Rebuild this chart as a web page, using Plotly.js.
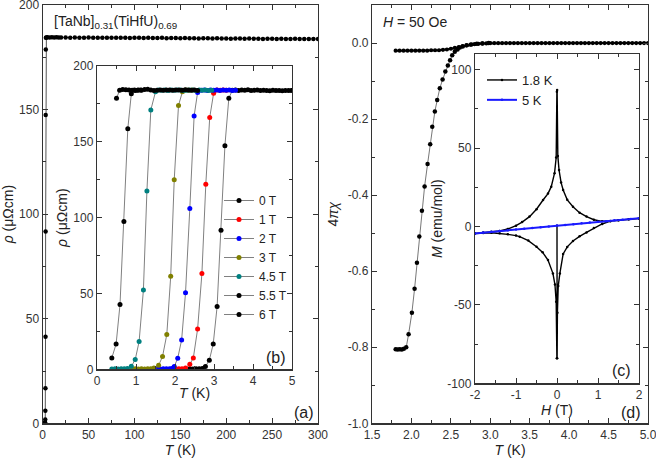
<!DOCTYPE html>
<html><head><meta charset="utf-8">
<script src="https://cdn.plot.ly/plotly-3.0.1.min.js"></script>
<style>html,body{margin:0;padding:0;background:#fff}#chart{width:656px;height:461px}</style>
</head><body><div id="chart"></div>
<script>
// ---------- Panel (a): rho vs T, 0 T, 0-300 K ----------
const T_main = [1.8, 2.0, 2.2, 2.38, 2.54, 2.70, 2.78, 2.88, 2.98, 3.08, 3.18, 3.28, 3.38, 3.47,
  4, 5, 7.5, 10, 12.5, 15, 17.5, 20,
  25, 30, 35, 40, 45, 50, 55, 60, 65, 70, 75, 80, 85, 90, 95, 100, 105, 110, 115, 120,
  125, 130, 135, 140, 145, 150, 155, 160, 165, 170, 175, 180, 185, 190, 195, 200,
  205, 210, 215, 220, 225, 230, 235, 240, 245, 250, 255, 260, 265, 270, 275, 280,
  285, 290, 295, 300];
const rho_main = [0.2, 0.3, 0.2, 0.3, 0.2, 0.3, 1.8, 6.0, 16.7, 41.4, 91.7, 147.4, 178.7, 184.3,
  184.5, 184.6, 184.5, 184.6, 184.5, 184.6, 184.5, 184.5,
  184.5, 184.4, 184.5, 184.4, 184.4, 184.5, 184.3, 184.4, 184.4, 184.3, 184.4, 184.3, 184.3, 184.4, 184.2, 184.3, 184.3, 184.2, 184.3, 184.2,
  184.2, 184.3, 184.1, 184.2, 184.2, 184.1, 184.2, 184.1, 184.1, 184.0, 184.1, 184.1, 184.0, 184.1, 184.0, 184.0,
  183.9, 184.0, 184.0, 183.9, 184.0, 183.9, 183.9, 183.8, 183.9, 183.9, 183.8, 183.9, 183.8, 183.8, 183.9, 183.8,
  183.8, 183.7, 183.8, 183.8];

// ---------- Panel (b): rho vs T in fields ----------
const fields_b = ['0 T', '1 T', '2 T', '3 T', '4.5 T', '5.5 T', '6 T'];
const colors_b = ['#000000', '#ff0000', '#0000ff', '#808000', '#008080', '#000000', '#000000'];
const T_0T = [2.38, 2.46, 2.54, 2.62, 2.70, 2.78, 2.88, 2.98, 3.08, 3.18, 3.28, 3.38,
  3.47, 3.55, 3.63, 3.71, 3.79, 3.87, 3.95, 4.03, 4.11, 4.19, 4.27, 4.35, 4.43, 4.51, 4.59, 4.67, 4.75, 4.83, 4.91, 4.98];
const rho_0T = [0.3, 0.2, 0.3, 0.4, 0.6, 1.8, 6.0, 16.7, 41.4, 91.7, 147.4, 178.7,
  184.0, 184.2, 183.9, 184.1, 184.0, 184.3, 183.9, 184.0, 184.1, 183.8, 184.0, 183.9, 183.7, 184.0, 183.8, 183.9, 183.7, 183.9, 183.8, 183.9];
const T_1T = [1.94, 2.02, 2.10, 2.18, 2.27, 2.38, 2.47, 2.58, 2.69, 2.79, 2.89, 2.99, 3.08, 3.16, 3.24, 3.32];
const rho_1T = [0.2, 0.3, 0.3, 0.4, 0.9, 3.3, 7.5, 26.6, 63.2, 122.0, 166.0, 182.0, 184.1, 184.0, 184.2, 184.0];
const T_2T = [1.46, 1.54, 1.62, 1.70, 1.78, 1.86, 1.92, 1.98, 2.07, 2.17, 2.27, 2.38, 2.49, 2.58,
  2.67, 2.75, 2.83, 2.91, 2.99, 3.07, 3.15, 3.23, 3.31, 3.39, 3.47, 3.55];
const rho_2T = [0.2, 0.3, 0.2, 0.3, 0.3, 0.4, 0.6, 1.8, 7.3, 19.4, 50.4, 106.0, 167.0, 182.6,
  184.0, 184.1, 183.9, 184.2, 184.0, 184.1, 183.9, 184.2, 184.0, 184.1, 183.9, 184.0];
const T_3T = [0.90, 0.98, 1.06, 1.14, 1.22, 1.30, 1.38, 1.46, 1.58, 1.68, 1.79, 1.89, 1.98, 2.09, 2.19, 2.28, 2.36, 2.44];
const rho_3T = [0.2, 0.3, 0.2, 0.3, 0.2, 0.3, 0.4, 0.8, 2.6, 8.4, 22.9, 61.4, 125.0, 174.0, 183.0, 184.1, 184.0, 184.2];
const T_45T = [0.38, 0.46, 0.54, 0.62, 0.70, 0.78, 0.88, 0.98, 1.08, 1.19, 1.28, 1.38, 1.50,
  1.58, 1.66, 1.74, 1.82, 1.90, 1.98, 2.06, 2.14, 2.22, 2.30, 2.38, 2.46, 2.54, 2.62, 2.70, 2.78, 2.86, 2.94];
const rho_45T = [0.2, 0.3, 0.2, 0.3, 0.3, 0.6, 2.0, 6.4, 18.3, 52.3, 117.5, 171.0, 183.0,
  184.2, 184.0, 184.1, 183.9, 184.2, 184.0, 184.1, 184.2, 183.9, 184.0, 184.2, 184.1, 183.9, 184.2, 184.0, 184.1, 183.9, 184.0];
const T_55T = [0.38, 0.49, 0.59, 0.69, 0.79, 0.88, 0.96, 1.04, 1.12];
const rho_55T = [7.5, 16.7, 42.7, 97.5, 158.6, 181.7, 184.1, 184.0, 184.2];
const T_6T = [0.50, 0.58, 0.66, 0.74, 0.82, 0.90, 0.98, 1.06, 1.14, 1.22, 1.30, 1.38, 1.46, 1.54,
  1.62, 1.70, 1.78, 1.86, 1.94, 2.02, 2.10, 2.18, 2.26, 2.34, 2.42, 2.50, 2.58];
const rho_6T = [178.7, 184.0, 184.5, 184.3, 184.2, 184.0, 183.9, 184.2, 184.0, 184.5, 184.6, 184.2, 183.8, 184.0,
  184.1, 184.0, 184.2, 184.1, 184.0, 184.2, 184.1, 184.0, 184.3, 184.2, 184.0, 184.1, 183.9];

// ---------- Panel (d): 4*pi*chi vs T, H = 50 Oe ----------
const T_zfc = [1.800, 1.826, 1.852, 1.878, 1.904, 1.934, 1.964, 2.006, 2.040, 2.070, 2.100, 2.133, 2.167,
  2.205, 2.238, 2.264, 2.297, 2.327, 2.360, 2.395, 2.430, 2.462, 2.490, 2.517, 2.550, 2.585, 2.614,
  2.650, 2.700, 2.760, 2.830, 2.900, 2.980];
const chi_zfc = [-0.805, -0.806, -0.805, -0.806, -0.804, -0.800, -0.766, -0.709, -0.646, -0.578, -0.509, -0.441, -0.377,
  -0.318, -0.266, -0.220, -0.180, -0.150, -0.119, -0.096, -0.075, -0.059, -0.045, -0.032, -0.023, -0.017, -0.012,
  -0.009, -0.006, -0.004, -0.002, -0.001, 0.000];
const T_fc = [1.80, 1.85, 1.90, 1.95, 2.00, 2.05, 2.10, 2.15, 2.20, 2.25, 2.30, 2.35, 2.40, 2.45, 2.50,
  2.55, 2.60, 2.65, 2.70, 2.75, 2.80, 2.85, 2.90, 2.95, 3.00, 3.05, 3.10, 3.15, 3.20, 3.25, 3.30,
  3.35, 3.40, 3.45, 3.50, 3.55, 3.60, 3.65, 3.70, 3.75, 3.80, 3.85, 3.90, 3.95, 4.00, 4.05, 4.10,
  4.15, 4.20, 4.25, 4.30, 4.35, 4.40, 4.45, 4.50, 4.55, 4.60, 4.65, 4.70, 4.75, 4.80, 4.85, 4.90, 4.95, 5.00];
const chi_fc = [-0.020, -0.020, -0.020, -0.020, -0.020, -0.020, -0.020, -0.020, -0.020, -0.019, -0.019, -0.019, -0.018, -0.017, -0.015,
  -0.013, -0.011, -0.008, -0.006, -0.004, -0.003, -0.002, -0.001, -0.001, 0.000, 0.000, 0.000, 0.000, 0.000, 0.000, 0.000,
  0.000, 0.000, 0.000, 0.000, 0.000, 0.000, 0.000, 0.000, 0.000, 0.000, 0.000, 0.000, 0.000, 0.000, 0.000, 0.000,
  0.000, 0.000, 0.000, 0.000, 0.000, 0.000, 0.000, 0.000, 0.000, 0.000, 0.000, 0.000, 0.000, 0.000, 0.000, 0.000, 0.000, 0.000];

// ---------- Panel (c): M vs H ----------
const H_18K = [0, 0.003, 0.01, 0.03, 0.07, 0.15, 0.25, 0.39, 0.55, 0.72, 0.9, 1.1, 1.3, 1.5, 1.75, 2.0,
  2.0, 1.75, 1.5, 1.3, 1.1, 0.9, 0.72, 0.55, 0.39, 0.25, 0.15, 0.1, 0.05, 0.02, 0.003,
  -0.003, -0.02, -0.06, -0.14, -0.22, -0.34, -0.5, -0.67, -0.85, -1.0, -1.2, -1.4, -1.6, -1.8, -2.0,
  -2.0, -1.8, -1.6, -1.4, -1.2, -1.0, -0.91, -0.7, -0.5, -0.35, -0.22, -0.1, -0.05, -0.02, -0.003];
const M_18K = [0.5, -84, -55, -38, -29.9, -17.5, -13.0, -9.2, -6.3, -3.8, -1.0, 1.6, 3.4, 4.0, 4.6, 5.1,
  5.1, 4.6, 4.0, 3.5, 3.3, 4.3, 6.3, 8.8, 12.6, 17.0, 23.3, 28.0, 36.0, 45.0, 87.0,
  86.0, 44.0, 34.0, 25.4, 21.0, 16.9, 11.0, 6.3, 2.8, 0.5, -1.6, -2.9, -3.4, -3.9, -4.5,
  -4.5, -4.2, -4.0, -4.3, -5.0, -5.8, -6.5, -9.0, -12.9, -16.5, -21.4, -29.9, -37.0, -48.0, -84.0];
const H_5K = [-2.0, -1.8, -1.6, -1.4, -1.2, -1.0, -0.8, -0.6, -0.4, -0.2, 0.0, 0.2, 0.4, 0.6, 0.8, 1.0, 1.2, 1.4, 1.6, 1.8, 2.0];
const M_5K = [-4.4, -3.9, -3.4, -2.9, -2.4, -1.9, -1.4, -0.9, -0.5, 0.0, 0.6, 1.0, 1.5, 2.0, 2.5, 3.0, 3.4, 3.9, 4.3, 4.8, 5.2];

// ---------- Tick labels ----------
const tTickVals_d = [1.5, 2.0, 2.5, 3.0, 3.5, 4.0, 4.5, 5.0];
const tTickText_d = ['1.5', '2.0', '2.5', '3.0', '3.5', '4.0', '4.5', '5.0'];
const chiTickVals = [-1.0, -0.8, -0.6, -0.4, -0.2, 0.0];
const chiTickText = ['-1.0', '-0.8', '-0.6', '-0.4', '-0.2', '0.0'];
const hTickVals = [-2, -1, 0, 1, 2];
const hTickText = ['-2', '-1', '0', '1', '2'];
const mTickVals = [-100, -50, 0, 50, 100];
const mTickText = ['-100', '-50', '0', '50', '100'];

const FONT = 'Liberation Sans, Arial, sans-serif';
const W = 656, H = 461;
const px = v => v / W, py = v => 1 - v / H;

const traces = [];
traces.push({x: T_main, y: rho_main, xaxis: 'x', yaxis: 'y', mode: 'lines+markers',
  line: {color: '#555', width: 1}, marker: {size: 4.5, color: '#000'}, showlegend: false, hoverinfo: 'skip'});

const bData = [[T_0T, rho_0T], [T_1T, rho_1T], [T_2T, rho_2T], [T_3T, rho_3T], [T_45T, rho_45T], [T_55T, rho_55T], [T_6T, rho_6T]];
bData.forEach((d, i) => {
  traces.push({x: d[0], y: d[1], xaxis: 'x2', yaxis: 'y2', mode: 'lines+markers', name: fields_b[i],
    line: {color: '#808080', width: 1}, marker: {size: 5, color: colors_b[i]}, legend: 'legend'});
});

traces.push({x: T_zfc, y: chi_zfc, xaxis: 'x3', yaxis: 'y3', mode: 'lines+markers',
  line: {color: '#777', width: 1}, marker: {size: 4.5, color: '#000'}, showlegend: false});
traces.push({x: T_fc, y: chi_fc, xaxis: 'x3', yaxis: 'y3', mode: 'lines+markers',
  line: {color: '#000', width: 2}, marker: {size: 4.2, color: '#000'}, showlegend: false});

traces.push({x: H_18K, y: M_18K, xaxis: 'x4', yaxis: 'y4', mode: 'lines+markers', name: '1.8 K',
  line: {color: '#000', width: 1.4}, marker: {size: 2.5, color: '#000'}, legend: 'legend2'});
traces.push({x: H_5K, y: M_5K, xaxis: 'x4', yaxis: 'y4', mode: 'lines+markers', name: '5 K',
  line: {color: '#1a1aff', width: 2}, marker: {size: 2.5, color: '#1a1aff'}, legend: 'legend2'});

function axis(extra) {
  return Object.assign({
    showline: true, linecolor: '#333', linewidth: 1.2, mirror: 'ticks',
    ticks: 'inside', ticklen: 5, tickwidth: 1, tickcolor: '#333',
    showgrid: false, zeroline: false, ticklabeloverflow: 'allow',
    tickfont: {family: FONT, size: 12, color: '#333'}
  }, extra);
}
function minor(dt, t0) { return {ticks: 'inside', ticklen: 3, tickcolor: '#333', dtick: dt, tick0: t0, showgrid: false}; }
function ttl(text, standoff) { return {text: text, font: {family: FONT, size: 14, color: '#222'}, standoff: standoff}; }

const layout = {
  width: W, height: H, margin: {l: 0, r: 0, t: 0, b: 0},
  paper_bgcolor: '#fff', plot_bgcolor: 'rgba(0,0,0,0)', showlegend: true,
  font: {family: FONT, color: '#222'},
  xaxis: axis({domain: [px(42.7), px(318)], range: [0, 300], dtick: 50, tick0: 0, minor: minor(25, 0), anchor: 'y',
    title: ttl('<i>T</i> (K)', 3)}),
  yaxis: axis({domain: [py(423.3), py(5)], range: [0, 200], dtick: 50, tick0: 0, minor: minor(25, 0), anchor: 'x',
    title: ttl('<i>ρ</i> (μΩcm)', 2)}),
  xaxis2: axis({domain: [px(97), px(292)], range: [0, 5], dtick: 1, tick0: 0, minor: minor(0.5, 0), anchor: 'y2',
    title: ttl('<i>T</i> (K)', 1)}),
  yaxis2: axis({domain: [py(369.3), py(66)], range: [0, 200], dtick: 50, tick0: 0, minor: minor(25, 0), anchor: 'x2',
    title: ttl('<i>ρ</i> (μΩcm)', 2)}),
  xaxis3: axis({domain: [px(372), px(648)], range: [1.5, 5], tickmode: 'array', tickvals: tTickVals_d, ticktext: tTickText_d,
    minor: minor(0.25, 1.5), anchor: 'y3', title: ttl('<i>T</i> (K)', 3)}),
  yaxis3: axis({domain: [py(423.3), py(5)], range: [-1, 0.1], tickmode: 'array', tickvals: chiTickVals, ticktext: chiTickText,
    minor: minor(0.1, 0), anchor: 'x3', title: ttl('4<i>πχ</i>', 5)}),
  xaxis4: axis({domain: [px(475), px(639)], range: [-2, 2], tickmode: 'array', tickvals: hTickVals, ticktext: hTickText,
    minor: minor(0.5, 0), anchor: 'y4', title: ttl('<i>H</i> (T)', 3)}),
  yaxis4: axis({domain: [py(383.3), py(54)], range: [-100, 110], tickmode: 'array', tickvals: mTickVals, ticktext: mTickText,
    minor: minor(25, 0), anchor: 'x4', title: ttl('<i>M</i> (emu/mol)', 1)}),
  legend: {x: px(219), y: py(186), xanchor: 'left', yanchor: 'top', bgcolor: 'rgba(0,0,0,0)',
    font: {family: FONT, size: 12, color: '#222'}, tracegroupgap: 0},
  legend2: {x: px(482), y: py(65), xanchor: 'left', yanchor: 'top', bgcolor: 'rgba(0,0,0,0)',
    font: {family: FONT, size: 13, color: '#222'}, tracegroupgap: 0},
  annotations: [
    {xref: 'paper', yref: 'paper', x: px(52), y: py(21.7), xanchor: 'left', yanchor: 'middle', showarrow: false,
      text: '[TaNb]<sub>0.31</sub>(TiHfU)<sub>0.69</sub>', font: {family: FONT, size: 14, color: '#222'}},
    {xref: 'paper', yref: 'paper', x: px(316), y: py(412), xanchor: 'right', yanchor: 'middle', showarrow: false,
      text: '(a)', font: {family: FONT, size: 16, color: '#222'}},
    {xref: 'paper', yref: 'paper', x: px(288), y: py(357), xanchor: 'right', yanchor: 'middle', showarrow: false,
      text: '(b)', font: {family: FONT, size: 16, color: '#222'}},
    {xref: 'paper', yref: 'paper', x: px(633), y: py(370), xanchor: 'right', yanchor: 'middle', showarrow: false,
      text: '(c)', font: {family: FONT, size: 16, color: '#222'}},
    {xref: 'paper', yref: 'paper', x: px(643), y: py(412), xanchor: 'right', yanchor: 'middle', showarrow: false,
      text: '(d)', font: {family: FONT, size: 16, color: '#222'}},
    {xref: 'paper', yref: 'paper', x: px(381), y: py(21.7), xanchor: 'left', yanchor: 'middle', showarrow: false,
      text: '<i>H</i> = 50 Oe', font: {family: FONT, size: 14, color: '#222'}}
  ]
};

Plotly.newPlot('chart', traces, layout, {staticPlot: true, displayModeBar: false});
</script></body></html>
